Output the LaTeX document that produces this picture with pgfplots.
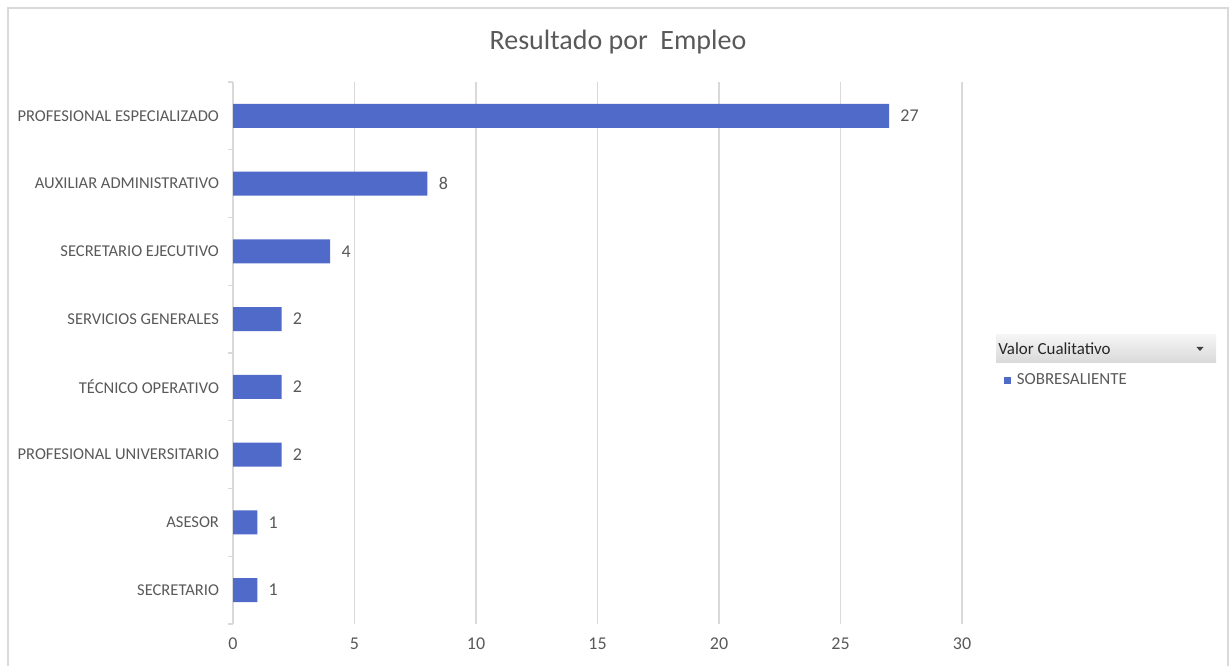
\documentclass[border=0pt]{standalone}
\usepackage{pgfplots}
\pgfplotsset{compat=1.18}
\usepackage{fontspec}
\setmainfont{Carlito}
\definecolor{barblue}{RGB}{79,106,200}
\definecolor{txt}{RGB}{89,89,89}
\definecolor{gridc}{RGB}{217,217,217}
\newcommand{\lf}{\fontsize{12.4}{14}\selectfont}
\newcommand{\nf}{\fontsize{13.5}{15}\selectfont}
\begin{document}
\begin{tikzpicture}[x=0.75pt,y=0.75pt]
\path (0,0) rectangle (1230,666);
\draw[gridc, line width=1.5pt] (7.5,0) -- (7.5,658) -- (1228,658) -- (1228,0);
\node[font=\fontsize{21}{24}\selectfont, text=txt] at (618,624) {Resultado por\ \ Empleo};
\begin{axis}[
  at={(174.75pt,31.5pt)}, anchor=south west,
  scale only axis, width=546.75pt, height=406.5pt,
  xmin=0, xmax=30, ymin=-0.5, ymax=7.5,
  xbar, bar width=18pt,
  axis line style={draw=none},
  xtick={0,5,...,30},
  xmajorgrids, grid style={gridc, line width=0.9pt},
  ytick={0,...,7},
  yticklabels={SECRETARIO, ASESOR, PROFESIONAL UNIVERSITARIO, TÉCNICO OPERATIVO, SERVICIOS GENERALES, SECRETARIO EJECUTIVO, AUXILIAR ADMINISTRATIVO, PROFESIONAL ESPECIALIZADO},
  minor ytick={-0.5,0.5,...,7.5},
  ytick pos=left, xtick pos=bottom,
  major tick length=0pt, minor tick length=3.75pt, tick align=outside,
  tick style={gridc, line width=0.9pt},
  /pgf/number format/assume math mode=true,
  yticklabel style={font=\lf, text=txt, xshift=-7pt},
  xticklabel style={font=\nf, text=txt, yshift=-7pt},
  point meta=x,
  nodes near coords,
  every node near coord/.append style={font=\nf, text=txt, xshift=5pt},
  clip=false,
  legend style={at={(1.057,0.45)}, anchor=west, draw=none, fill=none, font=\fontsize{12.7}{14}\selectfont, text=txt, inner sep=0pt, column sep=2.5pt},
  legend image code/.code={\fill[barblue] (0pt,-2.6pt) rectangle (5.25pt,2.6pt);},
]
\draw[gridc, line width=0.9pt] (axis cs:0,-0.5) -- (axis cs:0,7.5);
\addplot[fill=barblue, draw=none] coordinates {(1,0) (1,1) (2,2) (2,3) (2,4) (4,5) (8,6) (27,7)};
\addlegendentry{SOBRESALIENTE}
\end{axis}
\shade[top color=gray!8, bottom color=gray!30] (996,303) rectangle (1216,331);
\node[anchor=west, font=\fontsize{12.7}{14}\selectfont, text=black!85, inner sep=0pt] at (998,317) {Valor Cualitativo};
\fill[black!75] (1196.5,319) -- (1203.5,319) -- (1200,315) -- cycle;
\end{tikzpicture}
\end{document}
